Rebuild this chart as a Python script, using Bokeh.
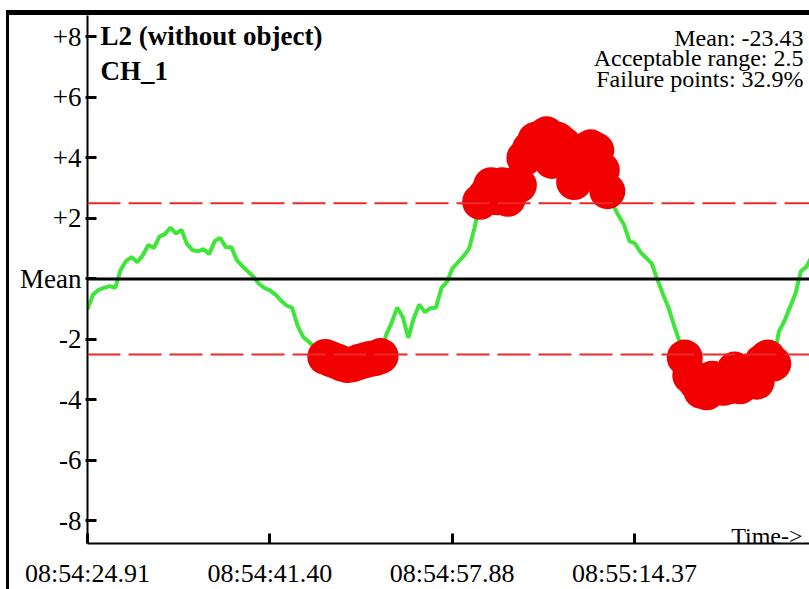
from bokeh.plotting import figure
from bokeh.models import Range1d, Span, Label, FixedTicker
from bokeh.embed import file_html
from bokeh.resources import INLINE

# ---- data (deviation from mean, sampled every 0.5 s from 08:54:24.91) ----
values = [
    -1.00, -0.52, -0.36, -0.30, -0.24, -0.30, 0.30, 0.60, 0.72, 0.55,
    0.78, 1.12, 1.02, 1.40, 1.48, 1.70, 1.50, 1.62, 1.15, 0.95,
    0.92, 0.98, 0.82, 1.25, 1.35, 1.05, 1.05, 0.62, 0.42, 0.25,
    0.07, -0.16, -0.30, -0.38, -0.52, -0.72, -0.88, -0.96, -1.55, -1.92,
    -2.08, -2.25, -2.45, -2.58, -2.65, -2.72, -2.80, -2.85, -2.82, -2.75,
    -2.70, -2.65, -2.62, -2.55, -1.85, -1.45, -0.95, -1.25, -1.95, -1.30,
    -0.85, -1.10, -0.97, -0.95, -0.30, -0.10, 0.35, 0.55, 0.75, 1.00,
    1.70, 2.55, 2.75, 3.10, 2.70, 3.10, 2.65, 3.10, 3.10, 4.00,
    4.30, 4.60, 4.65, 4.78, 3.90, 4.60, 4.45, 4.20, 3.20, 3.90,
    4.25, 4.35, 4.25, 3.60, 2.90, 2.45, 2.10, 1.80, 1.25, 1.17,
    0.88, 0.70, 0.52, 0.00, -0.48, -0.92, -1.50, -2.05, -2.60, -3.20,
    -3.40, -3.70, -3.75, -3.30, -3.45, -3.60, -3.55, -3.00, -3.55, -3.35,
    -3.10, -3.40, -2.75, -2.60, -2.80, -1.75, -1.40, -0.95, -0.50, 0.25,
    0.40, 0.75, 1.10,
]
time_step = 0.5
times = [round(i * time_step, 2) for i in range(len(values))]

acceptable = 2.5
fail_t = [t for t, v in zip(times, values) if abs(v) > acceptable]
fail_v = [v for v in values if abs(v) > acceptable]

y_ticks = [-8, -6, -4, -2, 0, 2, 4, 6, 8]
y_labels = ["-8", "-6", "-4", "-2", "Mean", "+2", "+4", "+6", "+8"]
x_ticks = [0.0, 16.49, 32.97, 49.46]
x_labels = ["08:54:24.91", "08:54:41.40", "08:54:57.88", "08:55:14.37"]

title_lines = ["L2 (without object)", "CH_1"]
info_lines = ["Mean: -23.43", "Acceptable range: 2.5", "Failure points: 32.9%"]

FONT = "Liberation Serif"

p = figure(width=803, height=579, output_backend="svg", toolbar_location=None,
           x_range=Range1d(0, 65.55), y_range=Range1d(-8.75, 8.71),
           min_border_left=78, min_border_right=0, min_border_top=0,
           min_border_bottom=51)
p.styles = {"border-left": "3px solid black", "border-top": "5px solid black",
            "margin-left": "6px", "margin-top": "10px"}
p.outline_line_color = None
p.xgrid.visible = False
p.ygrid.visible = False
p.background_fill_color = "white"
p.border_fill_color = "white"

for ax in (p.xaxis[0], p.yaxis[0]):
    ax.axis_line_width = 2
    ax.axis_line_color = "black"
    ax.major_tick_line_width = 3
    ax.major_tick_line_color = "black"
    ax.minor_tick_line_color = None
    ax.major_label_text_font = FONT
    ax.major_label_text_color = "black"

p.xaxis.ticker = FixedTicker(ticks=x_ticks)
p.xaxis.major_label_overrides = {t: l for t, l in zip(x_ticks, x_labels)}
p.xaxis.major_label_text_font_size = "26px"
p.xaxis.major_tick_in = 10
p.xaxis.major_tick_out = 0
p.xaxis.major_label_standoff = 15

p.yaxis.ticker = FixedTicker(ticks=y_ticks)
p.yaxis.major_label_overrides = {t: l for t, l in zip(y_ticks, y_labels)}
p.yaxis.major_label_text_font_size = "27px"
p.yaxis.major_tick_in = 9
p.yaxis.major_tick_out = 2
p.yaxis.major_label_standoff = 4

# reference lines
p.add_layout(Span(location=acceptable, dimension="width", line_color="#e82a2a",
                  line_width=2, line_dash="33 8"))
p.add_layout(Span(location=-acceptable, dimension="width", line_color="#e82a2a",
                  line_width=2, line_dash="33 8"))
p.add_layout(Span(location=0, dimension="width", line_color="black", line_width=3))

p.line(times, values, line_color="#3fe63a", line_width=4)
p.scatter(fail_t, fail_v, size=36, fill_color="#f20000", line_color=None)

# texts
for yv, line in zip([8.02, 6.89], title_lines):
    p.add_layout(Label(x=1.18, y=yv, text=line, text_font=FONT,
                       text_font_size="27px", text_font_style="bold",
                       text_color="black", text_baseline="alphabetic"))
for yv, line in zip([7.96, 7.30, 6.62], info_lines):
    p.add_layout(Label(x=64.74, y=yv, text=line, text_font=FONT,
                       text_font_size="24px", text_align="right",
                       text_color="black", text_baseline="alphabetic"))
p.add_layout(Label(x=64.65, y=-8.49, text="Time->", text_font=FONT,
                   text_font_size="24px", text_align="right",
                   text_color="black", text_baseline="alphabetic"))

open("out.html", "w").write(file_html(p, INLINE))
